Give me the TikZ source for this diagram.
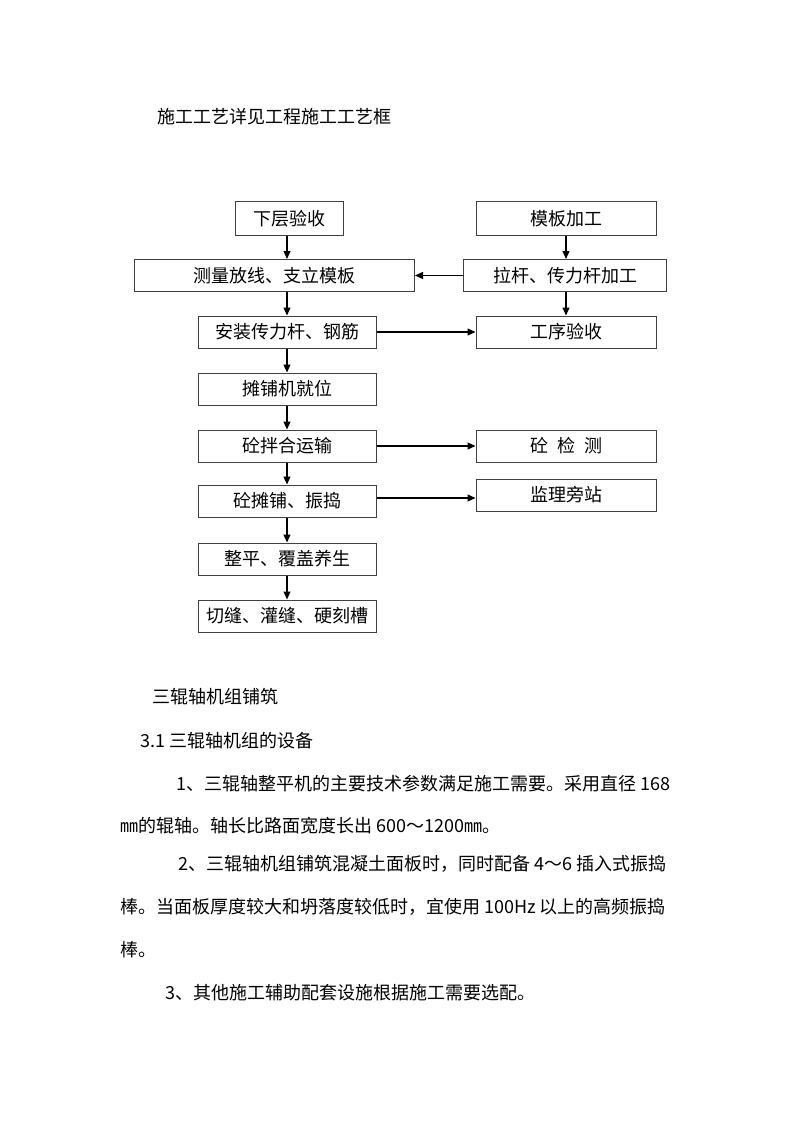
\documentclass[tikz,border=0pt]{standalone}
\usepackage{fontspec}
\setmainfont{Noto Sans CJK SC}
\usetikzlibrary{arrows.meta}
\begin{document}
\begin{tikzpicture}[x=1pt,y=-1pt,
  box/.style={draw=black!75,line width=1pt,minimum height=32pt,inner sep=0pt,font=\fontsize{18}{18}\selectfont},
  arr/.style={line width=1.1pt,-{Triangle[length=8pt,width=7pt]}},
  txt/.style={anchor=west,inner sep=0pt,font=\fontsize{18}{18}\selectfont}]
\useasboundingbox[fill=white] (0,0) rectangle (794,1123);

\node[txt] (t0) at (157,117) {施工工艺详见工程施工工艺框};

\node[box,minimum width=108pt,minimum height=34pt] (a1) at (289.5,219) {下层验收};
\node[box,minimum width=180pt,minimum height=34pt] (b1) at (566,219) {模板加工};
\node[box,minimum width=280pt] (a2) at (274.5,275.5) {测量放线、支立模板};
\node[box,minimum width=203pt] (b2) at (565,275.5) {拉杆、传力杆加工};
\node[box,minimum width=178pt] (a3) at (287,332) {安装传力杆、钢筋};
\node[box,minimum width=180pt] (b3) at (566,332) {工序验收};
\node[box,minimum width=178pt] (a4) at (287,389) {摊铺机就位};
\node[box,minimum width=178pt] (a5) at (287,446) {砼拌合运输};
\node[box,minimum width=180pt] (b5) at (566,446) {砼\hspace{0.5em}检\hspace{0.5em}测};
\node[box,minimum width=178pt] (a6) at (287,501) {砼摊铺、振捣};
\node[box,minimum width=180pt] (b6) at (566,495) {监理旁站};
\node[box,minimum width=178pt] (a7) at (287,559) {整平、覆盖养生};
\node[box,minimum width=178pt] (a8) at (287,616) {切缝、灌缝、硬刻槽};

\draw[arr] (a3.north |- a1.south) -- (a3.north |- a2.north);
\draw[arr] (a3.north |- a2.south) -- (a3.north);
\draw[arr] (a3) -- (a4);
\draw[arr] (a4) -- (a5);
\draw[arr] (a5) -- (a6);
\draw[arr] (a6) -- (a7);
\draw[arr] (a7) -- (a8);
\draw[arr] (b1.south) -- (b1.south |- b2.north);
\draw[arr] (b3.north |- b2.south) -- (b3.north);
\draw[arr] (b2.west) -- (b2.west -| a2.east);
\draw[arr] (a3.east) -- (b3.west);
\draw[arr] (a5.east) -- (b5.west);
\draw[arr] ([yshift=3pt]a6.east) -- ([yshift=3pt]a6.east -| b6.west);

\node[txt] (t1) at (152,697) {三辊轴机组铺筑};
\node[txt] (t2) at (140,741) {3.1 三辊轴机组的设备};
\node[txt] (t3) at (176,784) {1、三辊轴整平机的主要技术参数满足施工需要。采用直径 168};
\node[txt] (t4) at (120,826) {㎜的辊轴。轴长比路面宽度长出 600～1200㎜。};
\node[txt] (t5) at (178,864) {2、三辊轴机组铺筑混凝土面板时，同时配备 4～6 插入式振捣};
\node[txt] (t6) at (120,907) {棒。当面板厚度较大和坍落度较低时，宜使用 100Hz 以上的高频振捣};
\node[txt] (t7) at (120,950) {棒。};
\node[txt] (t8) at (165,993) {3、其他施工辅助配套设施根据施工需要选配。};
\end{tikzpicture}
\end{document}
